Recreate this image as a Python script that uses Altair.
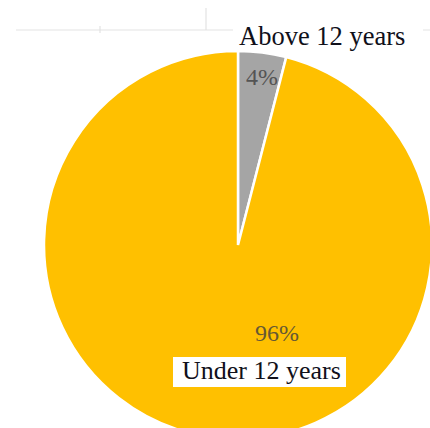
import altair as alt
import pandas as pd

categories = ["Above 12 years", "Under 12 years"]
values = [4, 96]
colors = ["#A5A5A5", "#FFC000"]

df = pd.DataFrame({"category": categories, "value": values, "idx": list(range(len(categories)))})
base = alt.Chart(df)

pie = base.mark_arc(radius=194, stroke="white", strokeWidth=2.5).encode(
    theta=alt.Theta("value:Q", stack=True),
    color=alt.Color("category:N", scale=alt.Scale(domain=categories, range=colors), legend=None),
    order=alt.Order("idx:Q"),
    x=alt.value(238),
    y=alt.value(245),
)

grid_h = base.mark_rule(color="#e3e3e3", strokeWidth=1.2).encode(
    x=alt.value(16), x2=alt.value(430), y=alt.value(30)
).transform_filter(alt.datum.idx == 0)
tick1 = base.mark_rule(color="#e3e3e3", strokeWidth=1.2).encode(
    x=alt.value(100), y=alt.value(26), y2=alt.value(33)
).transform_filter(alt.datum.idx == 0)
tick2 = base.mark_rule(color="#e3e3e3", strokeWidth=1.2).encode(
    x=alt.value(206), y=alt.value(8), y2=alt.value(30)
).transform_filter(alt.datum.idx == 0)

box_above = base.mark_rect(color="white").encode(
    x=alt.value(233), x2=alt.value(423), y=alt.value(22), y2=alt.value(51)
).transform_filter(alt.datum.idx == 0)
box_under = base.mark_rect(color="white").encode(
    x=alt.value(173), x2=alt.value(346), y=alt.value(357), y2=alt.value(387)
).transform_filter(alt.datum.idx == 1)

font = "'Liberation Serif', 'Times New Roman', 'DejaVu Serif', serif"
name_above = base.mark_text(font=font, fontSize=26.5, color="#10101a", align="left", baseline="alphabetic").encode(
    x=alt.value(239), y=alt.value(45), text="category:N"
).transform_filter(alt.datum.idx == 0)
name_under = base.mark_text(font=font, fontSize=26, color="#10101a", align="left", baseline="alphabetic").encode(
    x=alt.value(182), y=alt.value(379), text="category:N"
).transform_filter(alt.datum.idx == 1)

pct_above = base.transform_calculate(label="datum.value + '%'").transform_filter(alt.datum.idx == 0).mark_text(
    font=font, fontSize=24, color="#404040", opacity=0.8, align="center", baseline="alphabetic"
).encode(x=alt.value(262), y=alt.value(85), text="label:N")
pct_under = base.transform_calculate(label="datum.value + '%'").transform_filter(alt.datum.idx == 1).mark_text(
    font=font, fontSize=24, color="#404040", opacity=0.8, align="center", baseline="alphabetic"
).encode(x=alt.value(277), y=alt.value(341), text="label:N")

chart = alt.layer(
    grid_h, tick1, tick2, pie, box_above, box_under, name_above, name_under, pct_above, pct_under
).properties(
    width=430, height=428, padding=0, autosize=alt.AutoSizeParams(type="none")
).configure_view(stroke=None)

chart.save("out.html", embed_options={"renderer": "svg", "actions": False})
